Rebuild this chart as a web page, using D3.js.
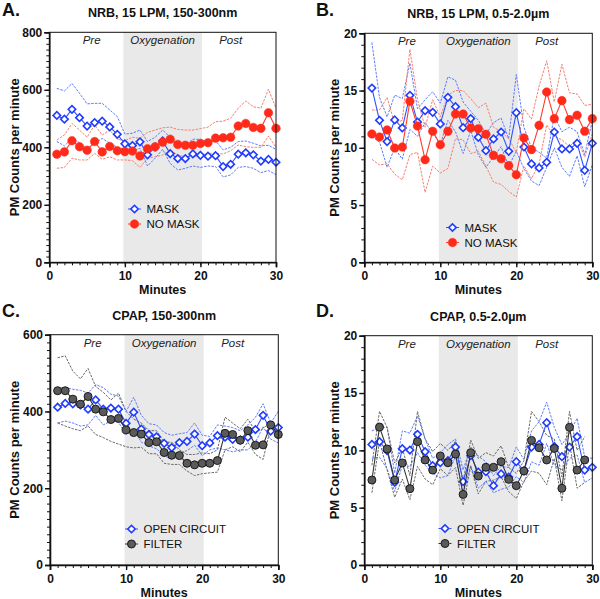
<!DOCTYPE html>
<html><head><meta charset="utf-8">
<script src="https://cdn.jsdelivr.net/npm/d3@7"></script>
<style>
body{margin:0;background:#fff}
svg{display:block;font-family:"Liberation Sans",Arial,Helvetica,sans-serif}
</style>
</head><body>
<svg id="chart" width="600" height="599"></svg>
<script>
// ---------- DATA ----------
const minutes = [1,2,3,4,5,6,7,8,9,10,11,12,13,14,15,16,17,18,19,20,21,22,23,24,25,26,27,28,29,30];
const phaseLabels = ["Pre","Oxygenation","Post"];
const phasePos = [5.6, 15, 24];
const shadeRange = [9.8, 20.2];
const xTicks = [0,10,20,30];

// Panel A: NRB, 15 LPM, 150-300nm
const aMaskMean = [511,498,532,503,474,486,491,471,445,412,406,419,374,401,422,378,361,361,377,372,369,371,333,341,376,381,374,352,358,348];
const aMaskUp   = [605,596,622,588,551,553,553,530,507,446,449,460,420,435,460,435,408,408,428,428,420,423,391,400,420,422,414,405,407,393];
const aMaskLo   = [420,405,431,416,393,414,431,414,400,393,388,396,335,362,393,344,321,327,335,330,335,333,297,304,330,333,327,312,319,305];
const aNoMaskMean = [376,384,423,402,390,420,384,403,388,385,387,370,395,402,418,428,410,407,407,413,416,432,433,435,474,483,469,466,520,466];
const aNoMaskUp   = [425,443,483,460,435,478,443,460,428,423,435,431,452,460,468,470,462,460,460,465,470,489,491,501,536,561,541,536,602,536];
const aNoMaskLo   = [327,330,362,356,356,379,358,367,356,356,354,330,362,367,373,391,373,367,367,373,379,379,377,388,408,402,400,400,439,400];

// Panel B: NRB, 15 LPM, 0.5-2.0µm
const bMaskMean = [15.22,12.40,10.54,12.43,11.73,14.58,12.25,13.24,13.10,12.08,14.41,13.59,11.76,12.55,10.92,9.75,10.77,11.38,9.69,13.07,10.07,8.59,8.24,8.73,11.38,9.90,9.90,10.39,8.03,10.39];
const bMaskUp   = [19.2,14.4,12.7,14.6,14.3,17.4,13.4,14.2,14.9,13.9,16.2,15.9,14.0,13.2,12.4,11.2,12.2,12.6,10.8,16.4,11.8,10.0,9.6,9.1,12.8,11.4,11.8,11.4,9.4,12.4];
const bMaskLo   = [11.0,10.5,8.3,10.0,9.0,11.6,11.0,12.2,11.3,10.3,12.4,11.4,9.5,11.5,9.4,8.3,9.2,10.1,8.4,9.7,8.2,7.1,6.7,8.3,10.0,8.3,7.5,9.3,6.6,8.5];
const bNoMaskMean = [11.21,10.94,11.56,9.98,10.07,14.06,11.90,8.96,11.44,10.27,11.44,12.95,12.95,11.73,11.67,11.18,9.34,9.05,8.44,7.65,10.86,9.84,11.96,14.87,12.55,14.12,12.46,12.84,11.44,12.55];
const bNoMaskUp   = [13.3,13.3,14.4,12.1,12.4,18.6,14.2,11.8,14.2,12.7,14.6,15.0,15.0,14.3,13.5,13.9,11.8,11.4,10.8,9.6,13.4,12.5,15.4,17.6,14.0,17.3,14.8,14.7,13.7,13.8];
const bNoMaskLo   = [9.0,8.5,8.6,7.7,7.2,9.4,9.6,6.1,8.4,7.8,8.2,10.8,10.7,9.5,9.7,8.4,7.0,6.8,6.2,5.7,8.4,7.3,8.6,12.0,11.0,10.7,10.1,10.8,9.2,11.2];

// Panel C: CPAP, 150-300nm
const cOpenMean = [411,421,420,417,406,430,406,409,406,369,398,354,340,334,317,306,319,322,341,311,318,337,333,327,326,333,353,390,349,358];
const cOpenUp   = [463,462,458,455,448,470,462,445,440,400,437,390,368,365,345,338,342,345,370,338,335,365,362,358,350,365,385,420,370,400];
const cOpenLo   = [370,375,370,362,365,390,365,375,372,340,355,320,310,303,285,275,292,298,312,285,300,305,300,295,300,300,320,360,328,318];
const cFilterMean = [454,454,432,419,439,406,399,379,382,352,345,341,319,321,293,286,285,265,261,265,265,272,343,340,325,350,312,313,365,340];
const cFilterUp   = [540,545,505,485,512,465,450,430,448,400,380,370,350,350,320,320,300,288,288,292,290,300,385,370,355,380,348,355,375,355];
const cFilterLo   = [370,362,355,350,362,340,332,322,315,308,305,307,290,290,265,262,262,245,233,238,240,242,300,308,295,320,288,275,358,325];

// Panel D: CPAP, 0.5-2.0µm
const dOpenMean = [10.52,10.76,9.97,7.21,10.15,10.03,11.40,9.88,8.66,8.92,9.10,10.29,7.27,9.53,8.11,8.14,6.92,7.94,7.67,9.01,8.20,10.29,10.52,12.41,10.32,9.45,10.29,11.19,8.28,8.52];
const dOpenUp   = [11.7,12.0,12.0,8.0,11.7,11.5,13.0,11.0,9.3,9.8,10.5,11.0,8.3,10.3,9.5,9.0,7.8,8.6,8.5,10.3,9.2,11.7,12.5,14.2,12.0,10.5,11.5,12.8,9.4,9.3];
const dOpenLo   = [9.3,9.4,8.4,6.4,8.7,8.6,9.8,8.7,8.0,7.6,7.8,9.5,6.2,8.7,6.7,7.3,6.3,6.6,6.8,7.7,7.2,9.0,8.7,10.6,8.7,8.3,9.3,9.6,7.2,7.6];
const dFilterMean = [7.41,12.03,10.12,7.41,8.90,6.66,10.76,9.16,8.28,9.51,8.92,9.68,6.16,9.80,7.76,8.52,8.52,9.01,7.47,6.92,8.20,10.87,10.23,9.16,10.17,6.69,12.01,8.28,9.16];
const dFilterUp   = [8.7,13.4,12.0,8.9,10.2,7.8,13.4,11.0,9.9,10.6,10.0,10.8,7.3,10.9,9.3,9.8,9.5,10.4,8.5,8.0,9.1,13.4,12.5,11.3,11.0,7.7,13.4,10.0,11.2];
const dFilterLo   = [6.3,10.8,8.3,5.9,7.5,5.7,8.6,7.5,7.0,8.4,7.8,8.5,5.2,8.6,6.2,7.3,7.4,7.7,6.4,5.8,7.3,8.2,8.0,7.0,9.3,5.6,10.6,6.7,7.2];

const yTicksA = [0,200,400,600,800];
const yTicksB = [0,5,10,15,20];
const yTicksC = [0,200,400,600];
const yTicksD = [0,5,10,15,20];

// ---------- STYLES ----------
const styles = {
  blue:  {mean:"#2f52ff", band:"#5c7cff", marker:"diamond", stroke:"#1f3cff", fill:"#ffffff"},
  red:   {mean:"#ff3b2b", band:"#f58070", marker:"dot", stroke:"#ff2a1a", fill:"#ff2a1a"},
  black: {mean:"#333333", band:"#6a6a6a", marker:"dot", stroke:"#1a1a1a", fill:"#5a5a5a"}
};

const panels = [
  {letter:"A.", title:"NRB, 15 LPM, 150-300nm", box:[49.3,276,32.3,262.3], yMax:800, yTicks:yTicksA, yMinor:20,
   legend:[128,209], labelX:15, letterPos:[2,16],
   series:[{name:"MASK", st:"blue", mean:aMaskMean, up:aMaskUp, lo:aMaskLo},
           {name:"NO MASK", st:"red", mean:aNoMaskMean, up:aNoMaskUp, lo:aNoMaskLo}]},
  {letter:"B.", title:"NRB, 15 LPM, 0.5-2.0µm", box:[364.3,592.3,33.3,262.3], yMax:20, yTicks:yTicksB, yMinor:1,
   legend:[446,227.5], labelX:335, letterPos:[316,16],
   series:[{name:"MASK", st:"blue", mean:bMaskMean, up:bMaskUp, lo:bMaskLo},
           {name:"NO MASK", st:"red", mean:bNoMaskMean, up:bNoMaskUp, lo:bNoMaskLo}]},
  {letter:"C.", title:"CPAP, 150-300nm", box:[50,278.3,334.7,565], yMax:600, yTicks:yTicksC, yMinor:20,
   legend:[125,529], labelX:15, letterPos:[2,317],
   series:[{name:"OPEN CIRCUIT", st:"blue", mean:cOpenMean, up:cOpenUp, lo:cOpenLo},
           {name:"FILTER", st:"black", mean:cFilterMean, up:cFilterUp, lo:cFilterLo}]},
  {letter:"D.", title:"CPAP, 0.5-2.0µm", box:[364.3,592.3,335.7,565], yMax:20, yTicks:yTicksD, yMinor:1,
   legend:[438.5,528.5], labelX:335, letterPos:[316,317],
   series:[{name:"OPEN CIRCUIT", st:"blue", mean:dOpenMean, up:dOpenUp, lo:dOpenLo},
           {name:"FILTER", st:"black", mean:dFilterMean, up:dFilterUp, lo:dFilterLo}]}
];

const svg = d3.select("#chart");
const diamondPath = d3.symbol().type(d3.symbolSquare).size(28)();

function drawMarker(g, st, x, y){
  const s = styles[st];
  if (s.marker === "diamond") {
    g.append("path").attr("d", diamondPath)
      .attr("transform", `translate(${x},${y}) rotate(45)`)
      .attr("fill", s.fill).attr("stroke", s.stroke).attr("stroke-width", 1.6);
  } else {
    g.append("circle").attr("cx", x).attr("cy", y).attr("r", st === "red" ? 4.3 : 4)
      .attr("fill", s.fill).attr("stroke", s.stroke).attr("stroke-width", st === "red" ? 0.5 : 1);
  }
}

panels.forEach(p => {
  const [x0,x1,y0,y1] = p.box;
  const x = d3.scaleLinear().domain([0,30]).range([x0,x1]);
  const y = d3.scaleLinear().domain([0,p.yMax]).range([y1,y0]);
  const g = svg.append("g");

  g.append("rect").attr("x", x(shadeRange[0])).attr("y", y0)
    .attr("width", x(shadeRange[1]) - x(shadeRange[0])).attr("height", y1 - y0)
    .attr("fill", "#e9e9e9");

  phaseLabels.forEach((t,i) => {
    g.append("text").attr("x", x(phasePos[i])).attr("y", y0 + 12)
      .attr("text-anchor","middle").attr("font-size",11.5).attr("font-style","italic")
      .attr("fill","#222").text(t);
  });

  p.series.forEach(s => {
    const st = styles[s.st];
    const xs = minutes.slice(0, s.mean.length);
    const line = d3.line().x((d,i)=>x(xs[i])).y(d=>y(d));
    [s.up, s.lo].forEach(arr => {
      g.append("path").attr("d", line(arr)).attr("fill","none")
        .attr("stroke", st.band).attr("stroke-width", 1).attr("stroke-dasharray","2.5,1.2");
    });
  });
  p.series.forEach(s => {
    const st = styles[s.st];
    const xs = minutes.slice(0, s.mean.length);
    const line = d3.line().x((d,i)=>x(xs[i])).y(d=>y(d));
    g.append("path").attr("d", line(s.mean)).attr("fill","none")
      .attr("stroke", st.mean).attr("stroke-width", 1.1);
    s.mean.forEach((v,i) => drawMarker(g, s.st, x(xs[i]), y(v)));
  });

  g.append("rect").attr("x",x0).attr("y",y0).attr("width",x1-x0).attr("height",y1-y0)
    .attr("fill","none").attr("stroke","#111").attr("stroke-width",1);

  const fontAxis = g => g.selectAll("text").attr("font-size",12).attr("font-weight","bold")
      .attr("font-family",'"Liberation Sans",Arial,sans-serif').attr("fill","#111");
  const xMinor = d3.range(0,31,1);
  g.append("g").attr("transform",`translate(0,${y1})`)
    .call(d3.axisBottom(x).tickValues(xMinor).tickSize(3).tickFormat(""))
    .call(a=>a.select(".domain").remove())
    .call(a=>a.selectAll("line").attr("stroke","#111").attr("stroke-width",1));
  g.append("g").attr("transform",`translate(0,${y1})`)
    .call(d3.axisBottom(x).tickValues(xTicks).tickSize(5).tickPadding(4).tickFormat(d3.format("d")))
    .call(a=>a.select(".domain").attr("stroke","#111").attr("stroke-width",1.6))
    .call(a=>a.selectAll("line").attr("stroke","#111").attr("stroke-width",1.4))
    .call(fontAxis);
  const yMinor = d3.range(0, p.yMax + p.yMinor/2, p.yMinor);
  g.append("g").attr("transform",`translate(${x0},0)`)
    .call(d3.axisLeft(y).tickValues(yMinor).tickSize(3).tickFormat(""))
    .call(a=>a.select(".domain").remove())
    .call(a=>a.selectAll("line").attr("stroke","#111").attr("stroke-width",1));
  g.append("g").attr("transform",`translate(${x0},0)`)
    .call(d3.axisLeft(y).tickValues(p.yTicks).tickSize(5).tickPadding(2).tickFormat(d3.format("d")))
    .call(a=>a.select(".domain").attr("stroke","#111").attr("stroke-width",1.6))
    .call(a=>a.selectAll("line").attr("stroke","#111").attr("stroke-width",1.4))
    .call(fontAxis);

  g.append("text").attr("x",(x0+x1)/2).attr("y",y1+32).attr("text-anchor","middle")
    .attr("font-size",12.5).attr("font-weight","bold").attr("fill","#111").text("Minutes");
  g.append("text").attr("transform",`translate(${p.labelX + 4},${(y0+y1)/2}) rotate(-90)`)
    .attr("text-anchor","middle").attr("font-size",13).attr("font-weight","bold")
    .attr("fill","#111").text("PM Counts per minute");
  g.append("text").attr("x",(x0+x1)/2).attr("y",y0-15).attr("text-anchor","middle")
    .attr("font-size",12.5).attr("font-weight","bold").attr("fill","#111").text(p.title);
  g.append("text").attr("x",p.letterPos[0]).attr("y",p.letterPos[1]).attr("font-size",18)
    .attr("font-weight","bold").attr("fill","#111").text(p.letter);

  p.series.forEach((s,i) => {
    const lx = p.legend[0], ly = p.legend[1] + i*15;
    const st = styles[s.st];
    g.append("line").attr("x1",lx).attr("x2",lx+13).attr("y1",ly).attr("y2",ly)
      .attr("stroke",st.mean).attr("stroke-width",1).attr("stroke-dasharray","2.5,1.2");
    drawMarker(g, s.st, lx+6.5, ly);
    g.append("text").attr("x",lx+18.5).attr("y",ly+4).attr("font-size",11.5)
      .attr("fill","#111").text(s.name);
  });
});
</script>
</body></html>
